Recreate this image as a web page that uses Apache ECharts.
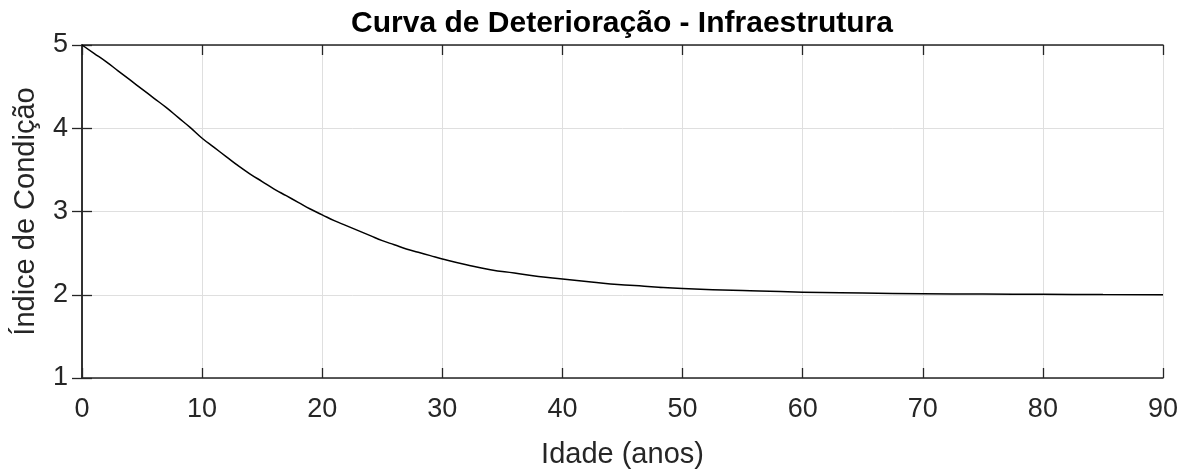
<!DOCTYPE html>
<html>
<head>
<meta charset="utf-8">
<script src="https://cdn.jsdelivr.net/npm/echarts@6/dist/echarts.min.js"></script>
<style>
  html, body { margin: 0; padding: 0; background: #fff; }
  #chart { width: 1193px; height: 474px; }
</style>
</head>
<body>
<div id="chart"></div>
<script>
// Age of the asset (years) and its condition index
const idade = [0, 1, 2, 3, 4, 5, 6, 7, 8, 9, 10, 11, 12, 13, 14, 15, 16, 17, 18, 19, 20,
  21, 22, 23, 24, 25, 26, 27, 28, 29, 30, 32, 34, 36, 38, 40, 42, 44, 46, 48, 50,
  55, 60, 65, 70, 75, 80, 85, 90];
const indice = [5.00, 4.90, 4.80, 4.69, 4.58, 4.47, 4.36, 4.25, 4.13, 4.01, 3.88, 3.77, 3.66, 3.55, 3.45, 3.36, 3.27, 3.19, 3.11, 3.03, 2.96,
  2.89, 2.83, 2.77, 2.71, 2.65, 2.60, 2.55, 2.51, 2.47, 2.43, 2.36, 2.30, 2.26, 2.22, 2.19, 2.16, 2.13, 2.11, 2.09, 2.075,
  2.05, 2.03, 2.02, 2.012, 2.008, 2.005, 2.003, 2.00];

const xTicks = [0, 90, 10];   // min, max, step
const yTicks = [1, 5, 1];

const ink = '#262626';
const gridGray = '#dfdfdf';
const font = 'Liberation Sans, Arial, Helvetica, sans-serif';

const chart = echarts.init(document.getElementById('chart'), null, { renderer: 'canvas' });

const tickStyle = { show: true, inside: true, length: 10, lineStyle: { color: ink, width: 1.3 } };

chart.setOption({
  animation: false,
  backgroundColor: '#ffffff',
  title: {
    text: 'Curva de Deterioração - Infraestrutura',
    left: 617,
    textAlign: 'center',
    top: 4,
    textStyle: { fontFamily: font, fontWeight: 'bold', fontSize: 30, color: '#000' }
  },
  grid: { left: 82, right: 30, top: 45, bottom: 95, containLabel: false },
  xAxis: [
    {
      type: 'value', min: xTicks[0], max: xTicks[1], interval: xTicks[2],
      position: 'bottom',
      name: 'Idade (anos)', nameLocation: 'middle', nameGap: 62,
      nameTextStyle: { fontFamily: font, fontSize: 29, color: ink },
      axisLine: { show: true, lineStyle: { color: ink, width: 1.5 } },
      axisTick: tickStyle,
      axisLabel: { fontFamily: font, fontSize: 27, color: ink, margin: 18 },
      splitLine: { show: true, lineStyle: { color: gridGray, width: 1 } }
    },
    {
      type: 'value', min: xTicks[0], max: xTicks[1], interval: xTicks[2],
      position: 'top',
      axisLine: { show: true, lineStyle: { color: ink, width: 1.5 } },
      axisTick: tickStyle,
      axisLabel: { show: false },
      splitLine: { show: false }
    }
  ],
  yAxis: [
    {
      type: 'value', min: yTicks[0], max: yTicks[1], interval: yTicks[2],
      position: 'left',
      name: 'Índice de Condição', nameLocation: 'middle', nameGap: 42,
      nameTextStyle: { fontFamily: font, fontSize: 29, color: ink },
      axisLine: { show: true, lineStyle: { color: ink, width: 1.5 } },
      axisTick: tickStyle,
      axisLabel: { fontFamily: font, fontSize: 27, color: ink, margin: 14, padding: [7, 0, 0, 0] },
      splitLine: { show: true, lineStyle: { color: gridGray, width: 1 } }
    },
    {
      type: 'value', min: yTicks[0], max: yTicks[1], interval: yTicks[2],
      position: 'right',
      axisLine: { show: true, lineStyle: { color: ink, width: 1.5 } },
      axisTick: tickStyle,
      axisLabel: { show: false },
      splitLine: { show: false }
    }
  ],
  series: [
    {
      type: 'line',
      xAxisIndex: 0,
      yAxisIndex: 0,
      data: idade.map((t, i) => [t, indice[i]]),
      smooth: 0.5,
      showSymbol: false,
      lineStyle: { color: '#000', width: 1.5 },
      z: 5
    }
  ]
});
</script>
</body>
</html>
